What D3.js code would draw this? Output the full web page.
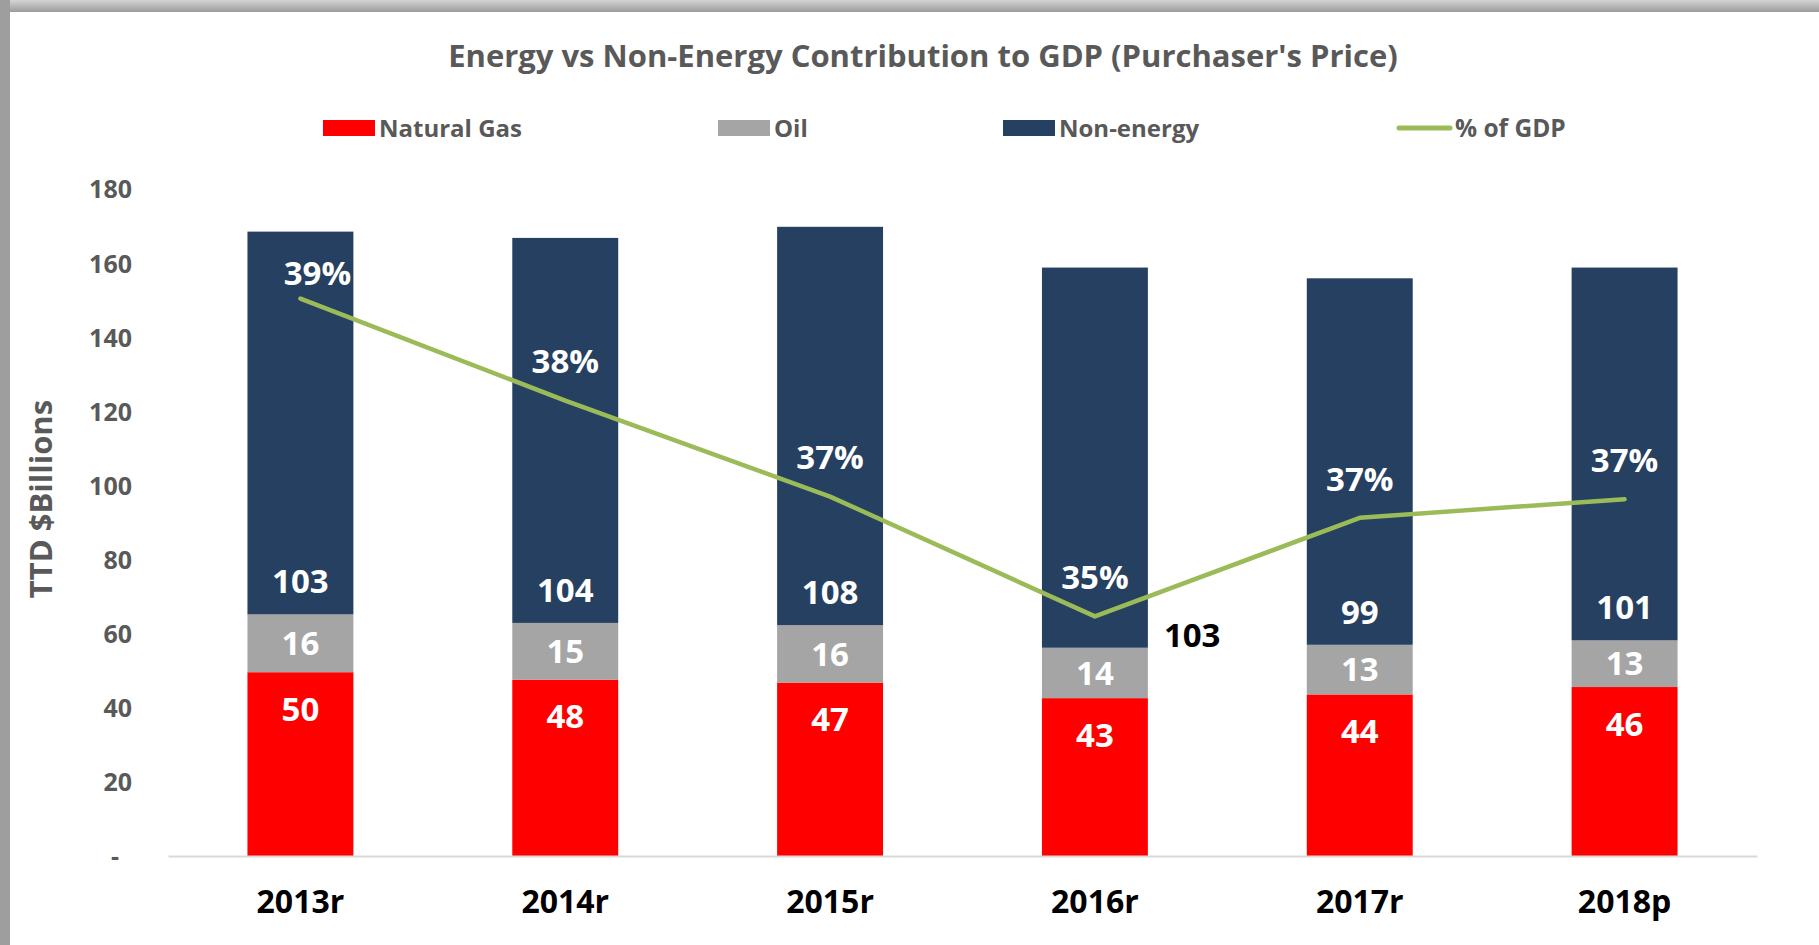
<!DOCTYPE html>
<html>
<head>
<meta charset="utf-8">
<script src="https://cdn.jsdelivr.net/npm/d3@7"></script>
<style>
  body { margin: 0; background: #ffffff; }
  svg { display: block; font-family: "Open Sans", "Noto Sans", sans-serif; font-weight: bold; }
</style>
</head>
<body>
<div id="chart"></div>
<script>
// chart data (labels in the chart are these values rounded)
const years = ["2013r", "2014r", "2015r", "2016r", "2017r", "2018p"]
const naturalGas = [49.6, 47.6, 46.8, 42.6, 43.6, 45.6]
const oil = [15.6, 15.3, 15.5, 13.6, 13.4, 12.6]
const nonEnergy = [103.3, 103.9, 107.5, 102.6, 98.9, 100.6]
const pctOfGdp = [0.3916, 0.3796, 0.3683, 0.3542, 0.3658, 0.3680]
const yTicks = [0, 20, 40, 60, 80, 100, 120, 140, 160, 180]

const seriesNames = ["Natural Gas", "Oil", "Non-energy"]
const lineName = "% of GDP"

function renderChart(frame_id) {
    let width = 1819
    let height = 945
    let plot = { left: 168, right: 1757, top: 189, bottom: 856 }

    let colors = { "Natural Gas": "#ff0000", "Oil": "#a5a5a5", "Non-energy": "#264061" }
    let lineColor = "#9bbb59"
    let textGrey = "#595959"

    var svg = d3.select("#" + frame_id)
        .append("svg")
        .attr("width", width)
        .attr("height", height)

    svg.append("rect").attr("width", width).attr("height", height).attr("fill", "#ffffff")

    // grey frame on the top and left edges
    let grad = svg.append("defs").append("linearGradient")
        .attr("id", "topEdge").attr("x1", 0).attr("y1", 0).attr("x2", 0).attr("y2", 1)
    grad.append("stop").attr("offset", "0%").attr("stop-color", "#d4d4d4")
    grad.append("stop").attr("offset", "100%").attr("stop-color", "#9c9c9c")
    svg.append("rect").attr("x", 0).attr("y", 0).attr("width", width).attr("height", 12).attr("fill", "url(#topEdge)")
    svg.append("rect").attr("x", 0).attr("y", 0).attr("width", 10).attr("height", height).attr("fill", "#9e9e9e")

    var x = d3.scaleBand()
        .domain(years)
        .range([plot.left, plot.right])
        .paddingInner(0.6)
        .paddingOuter(0.3)

    var y = d3.scaleLinear()
        .domain([0, 180])
        .range([plot.bottom, plot.top])

    // hidden secondary axis for the % line
    var y2 = d3.scaleLinear()
        .domain([0.326, 0.4045])
        .range([plot.bottom, plot.top])

    let rows = years.map((yr, i) => ({
        year: yr,
        "Natural Gas": naturalGas[i],
        "Oil": oil[i],
        "Non-energy": nonEnergy[i]
    }))
    let stacked = d3.stack().keys(seriesNames)(rows)

    // title
    svg.append("text")
        .attr("x", 923)
        .attr("y", 56)
        .attr("dy", "0.357em")
        .attr("text-anchor", "middle")
        .attr("fill", textGrey)
        .style("font-size", "31px")
        .text("Energy vs Non-Energy Contribution to GDP (Purchaser's Price)")

    // legend
    let legendX = [323, 718, 1003, 1396]
    let legend = svg.append("g").style("font-size", "24px")
    seriesNames.forEach((name, i) => {
        legend.append("rect")
            .attr("x", legendX[i]).attr("y", 120)
            .attr("width", 52).attr("height", 16)
            .attr("fill", colors[name])
        legend.append("text")
            .attr("x", legendX[i] + 56).attr("y", 128).attr("dy", "0.357em")
            .attr("fill", textGrey)
            .text(name)
    })
    legend.append("line")
        .attr("x1", legendX[3] + 3).attr("x2", legendX[3] + 54)
        .attr("y1", 128).attr("y2", 128)
        .attr("stroke", lineColor).attr("stroke-width", 5).attr("stroke-linecap", "round")
    legend.append("text")
        .attr("x", legendX[3] + 59).attr("y", 128).attr("dy", "0.357em")
        .attr("fill", textGrey)
        .style("font-size", "24.5px")
        .text(lineName)

    // y axis labels
    var yAxis = svg.append("g")
        .attr("transform", "translate(" + plot.left + ",0)")
        .call(d3.axisLeft(y).tickValues(yTicks).tickSize(0).tickPadding(36)
            .tickFormat(d => d === 0 ? "-" : d))
    yAxis.select(".domain").remove()
    yAxis.selectAll("text")
        .attr("fill", textGrey)
        .style("font-size", "25px")
        .style("font-family", "\"Open Sans\", sans-serif")
        .style("font-weight", "bold")
        .attr("dy", "0.357em")
    yAxis.selectAll("text").filter(d => d === 0).attr("x", -49)

    svg.append("text")
        .attr("transform", "translate(41,499) rotate(-90)")
        .attr("dy", "0.357em")
        .attr("text-anchor", "middle")
        .attr("fill", textGrey)
        .style("font-size", "31px")
        .text("TTD $Billions")

    // stacked bars
    svg.selectAll("g.series")
        .data(stacked)
        .enter()
        .append("g")
        .attr("class", "series")
        .attr("fill", d => colors[d.key])
        .selectAll("rect")
        .data(d => d)
        .enter()
        .append("rect")
        .attr("x", d => x(d.data.year))
        .attr("width", x.bandwidth())
        .attr("y", d => y(d[1]))
        .attr("height", d => y(d[0]) - y(d[1]))

    // x axis
    var xAxis = svg.append("g")
        .attr("transform", "translate(0," + plot.bottom + ")")
        .call(d3.axisBottom(x).tickSize(0).tickSizeOuter(0))
    xAxis.select(".domain").attr("stroke", "#d9d9d9").attr("stroke-width", 2)
    xAxis.selectAll("text")
        .attr("y", 46)
        .attr("dy", "0.357em")
        .attr("fill", "#000000")
        .style("font-size", "32px")
        .style("font-family", "\"Open Sans\", sans-serif")
        .style("font-weight", "bold")

    // segment labels
    let labels = svg.append("g").style("font-size", "33px").attr("text-anchor", "middle")
    let cx = d => x(d.data.year) + x.bandwidth() / 2

    labels.selectAll(null).data(stacked[0]).enter().append("text")
        .attr("x", cx).attr("y", d => y(d[1]) + 37).attr("dy", "0.357em")
        .attr("fill", "#ffffff")
        .text(d => Math.round(d[1] - d[0]))

    labels.selectAll(null).data(stacked[1]).enter().append("text")
        .attr("x", cx).attr("y", d => (y(d[0]) + y(d[1])) / 2).attr("dy", "0.357em")
        .attr("fill", "#ffffff")
        .text(d => Math.round(d[1] - d[0]))

    labels.selectAll(null).data(stacked[2]).enter().append("text")
        .attr("x", (d, i) => i === 3 ? x(d.data.year) + x.bandwidth() + 16 : cx(d))
        .attr("y", (d, i) => i === 3 ? y(d[0]) - 13 : y(d[0]) - 33)
        .attr("dy", "0.357em")
        .attr("text-anchor", (d, i) => i === 3 ? "start" : "middle")
        .attr("fill", (d, i) => i === 3 ? "#000000" : "#ffffff")
        .text(d => Math.round(d[1] - d[0]))

    // % of GDP line
    let linePts = years.map((yr, i) => [x(yr) + x.bandwidth() / 2, y2(pctOfGdp[i])])
    svg.append("path")
        .datum(linePts)
        .attr("d", d3.line())
        .attr("fill", "none")
        .attr("stroke", lineColor)
        .attr("stroke-width", 4.5)
        .attr("stroke-linejoin", "round")
        .attr("stroke-linecap", "round")

    labels.selectAll(null).data(linePts).enter().append("text")
        .attr("x", (d, i) => i === 0 ? d[0] + 17 : d[0])
        .attr("y", (d, i) => i === 0 ? d[1] - 25 : d[1] - 39)
        .attr("dy", "0.357em")
        .attr("fill", "#ffffff")
        .text((d, i) => Math.round(pctOfGdp[i] * 100) + "%")
}

document.addEventListener("DOMContentLoaded", () => {
    renderChart("chart")
})
</script>
</body>
</html>
